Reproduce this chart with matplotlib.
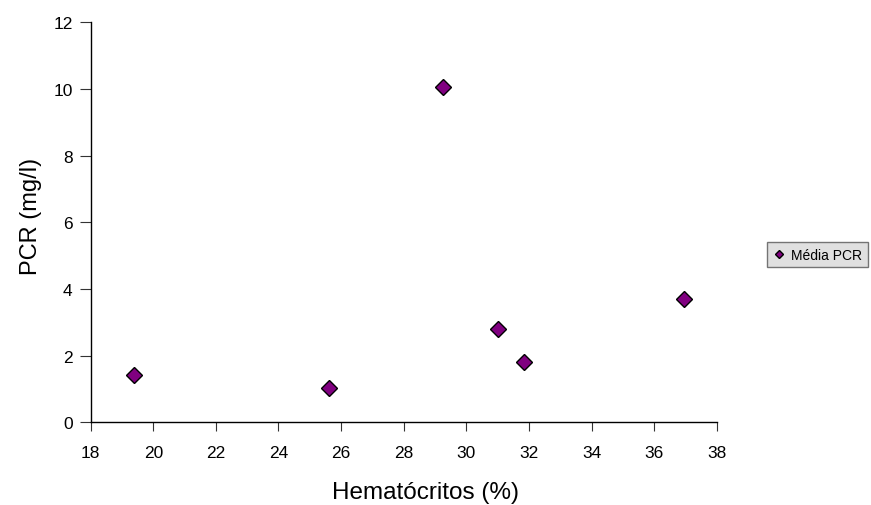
import matplotlib.pyplot as plt

plt.rcParams["font.family"] = ["Liberation Sans", "DejaVu Sans"]

# values
hematocritos = [19.4, 25.6, 29.25, 31.0, 31.85, 36.95]
pcr_media = [1.43, 1.03, 10.05, 2.80, 1.81, 3.71]
serie_label = "Média PCR"

fig = plt.figure(figsize=(8.71, 5.06), dpi=100)
ax = fig.add_axes([0.1041, 0.1634, 0.7188, 0.7906])

ax.plot(hematocritos, pcr_media, "D", color="#800080", markeredgecolor="black",
        markeredgewidth=1.0, markersize=7.8, linestyle="none", label=serie_label)

ax.set_xlim(18, 38)
ax.set_ylim(0, 12)
ax.set_xticks(range(18, 39, 2))
ax.set_yticks(range(0, 13, 2))

for side in ["top", "right"]:
    ax.spines[side].set_visible(False)
for side in ["left", "bottom"]:
    ax.spines[side].set_color("black")
    ax.spines[side].set_linewidth(1.0)

ax.tick_params(direction="out", width=0.8, color="#333333", labelsize=12.5)
ax.tick_params(axis="x", length=6.5, pad=10)
ax.tick_params(axis="y", length=8, pad=5)

ax.set_xlabel("Hematócritos (%)", fontsize=17.5, va="baseline")
ax.xaxis.set_label_coords(0.5356, -0.19)
ax.set_ylabel("PCR (mg/l)", fontsize=17, va="center")
ax.yaxis.set_label_coords(-0.096, 0.518)

leg = fig.legend(loc="upper left", bbox_to_anchor=(0.8806, 0.5198), borderaxespad=0,
                 fontsize=10, frameon=True, fancybox=False, markerscale=0.5,
                 handletextpad=0.46, borderpad=0.4, handlelength=0.9)
leg.get_frame().set_facecolor("#d9d9d9")
leg.get_frame().set_edgecolor("#555555")
leg.get_frame().set_linewidth(1.0)

fig.savefig("out.png", dpi=100)
